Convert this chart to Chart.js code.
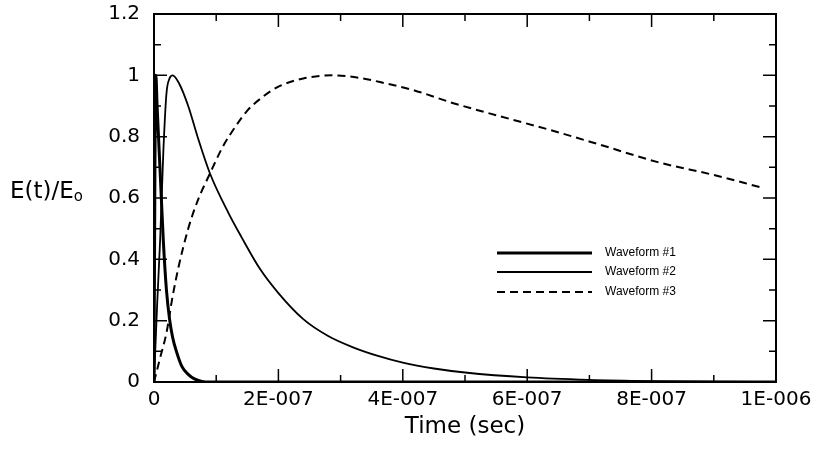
<!DOCTYPE html>
<html>
<head>
<meta charset="utf-8">
<script src="https://cdn.jsdelivr.net/npm/chart.js@4.4.1/dist/chart.umd.min.js"></script>
<style>
  html, body { margin: 0; padding: 0; background: #fff; }
  #wrap { position: relative; width: 819px; height: 455px; }
  #ytitle { position: absolute; left: 10px; top: 177px; font: 23px "DejaVu Sans"; color: #000; white-space: nowrap; }
  #ytitle sub { font-size: 15px; vertical-align: -3px; }
</style>
</head>
<body>
<div id="wrap">
  <canvas id="chart" width="819" height="455"></canvas>
  <div id="ytitle">E(t)/E<sub>o</sub></div>
</div>
<script>
// time (sec) and normalised field
const seriesNames = ['Waveform #1', 'Waveform #2', 'Waveform #3'];

const time1 = [0, 0.15e-8, 0.3e-8, 0.5e-8, 1.0e-8, 1.5e-8, 2.0e-8, 2.5e-8, 3.0e-8, 3.6e-8, 4.5e-8, 5.5e-8, 6.5e-8, 7.7e-8, 9e-8, 1.2e-7, 1.0e-6];
const wave1 = [0, 0.7, 1.0, 0.9, 0.68, 0.46, 0.3, 0.205, 0.145, 0.1, 0.05, 0.025, 0.01, 0.002, 0, 0, 0];

const time2 = [0, 0.5e-8, 1.0e-8, 1.5e-8, 2.0e-8, 2.5e-8, 3.0e-8, 4.0e-8, 5.5e-8, 7e-8, 9e-8, 1.2e-7, 1.4e-7, 1.7e-7, 2.0e-7, 2.4e-7, 2.8e-7, 3.2e-7, 3.6e-7, 4.0e-7, 4.5e-7, 5.0e-7, 6.0e-7, 7.0e-7, 8.0e-7, 9.0e-7, 1.0e-6];
const wave2 = [0, 0.25, 0.47, 0.75, 0.94, 0.99, 1.0, 0.975, 0.9, 0.8, 0.68, 0.55, 0.475, 0.37, 0.29, 0.205, 0.15, 0.113, 0.085, 0.063, 0.044, 0.031, 0.015, 0.007, 0.003, 0.001, 0];

const time3 = [0, 1e-8, 2e-8, 3e-8, 4e-8, 5.5e-8, 7e-8, 9e-8, 1.1e-7, 1.3e-7, 1.5e-7, 1.75e-7, 2.0e-7, 2.4e-7, 2.9e-7, 3.3e-7, 3.7e-7, 4.2e-7, 4.8e-7, 5.5e-7, 6.4e-7, 7.2e-7, 8.1e-7, 9.0e-7, 9.75e-7];
const wave3 = [0, 0.08, 0.16, 0.28, 0.38, 0.5, 0.59, 0.68, 0.765, 0.83, 0.885, 0.93, 0.963, 0.99, 1.0, 0.992, 0.975, 0.95, 0.91, 0.87, 0.82, 0.772, 0.717, 0.675, 0.635];

const xTickStep = 2e-7;
const yTickStep = 0.2;

const toPoints = (ts, vs) => ts.map((t, i) => ({ x: t, y: vs[i] }));

// frame, inward ticks on all four sides, and the legend inside the plot
const framePlugin = {
  id: 'frame',
  afterDraw(chart) {
    const { ctx, chartArea: a, scales: { x, y } } = chart;
    ctx.save();
    ctx.strokeStyle = '#000';
    ctx.lineWidth = 2;
    ctx.strokeRect(a.left, a.top, a.width, a.height);

    const withMinors = scale => {
      const vals = scale.ticks.map(t => t.value);
      const out = vals.map(v => ({ v, major: true }));
      for (let i = 0; i < vals.length - 1; i++) out.push({ v: (vals[i] + vals[i + 1]) / 2, major: false });
      return out;
    };
    ctx.lineWidth = 1.5;
    ctx.beginPath();
    withMinors(x).forEach(({ v, major }) => {
      const px = x.getPixelForValue(v);
      const len = major ? 13 : 7;
      ctx.moveTo(px, a.bottom); ctx.lineTo(px, a.bottom - len);
      ctx.moveTo(px, a.top); ctx.lineTo(px, a.top + len);
    });
    withMinors(y).forEach(({ v, major }) => {
      const py = y.getPixelForValue(v);
      const len = major ? 13 : 7;
      ctx.moveTo(a.left, py); ctx.lineTo(a.left + len, py);
      ctx.moveTo(a.right, py); ctx.lineTo(a.right - len, py);
    });
    ctx.stroke();

    // legend
    const lx0 = 497, lx1 = 592, tx = 605;
    const rows = [253, 272, 292];
    ctx.font = '12px "Liberation Sans"';
    ctx.fillStyle = '#000';
    ctx.textBaseline = 'middle';
    chart.data.datasets.forEach((ds, i) => {
      ctx.lineWidth = ds.borderWidth;
      ctx.setLineDash(ds.borderDash || []);
      ctx.beginPath();
      ctx.moveTo(lx0, rows[i]); ctx.lineTo(lx1, rows[i]);
      ctx.stroke();
      ctx.setLineDash([]);
      ctx.fillText(ds.label, tx, rows[i]);
    });
    ctx.restore();
  }
};

const tickFont = { family: 'DejaVu Sans', size: 20 };

new Chart(document.getElementById('chart'), {
  type: 'scatter',
  data: {
    datasets: [
      { label: seriesNames[0], data: toPoints(time1, wave1), borderColor: '#000', borderWidth: 3, showLine: true, pointRadius: 0, cubicInterpolationMode: 'monotone' },
      { label: seriesNames[1], data: toPoints(time2, wave2), borderColor: '#000', borderWidth: 1.8, showLine: true, pointRadius: 0, cubicInterpolationMode: 'monotone' },
      { label: seriesNames[2], data: toPoints(time3, wave3), borderColor: '#000', borderWidth: 2, borderDash: [8, 5], showLine: true, pointRadius: 0, cubicInterpolationMode: 'monotone' }
    ]
  },
  options: {
    responsive: false,
    animation: false,
    layout: { padding: { left: 0, top: 14, right: 43, bottom: 0 } },
    plugins: { legend: { display: false }, tooltip: { enabled: false } },
    scales: {
      x: {
        type: 'linear', min: 0, max: 1e-6,
        grid: { display: false, drawTicks: false },
        border: { display: false },
        ticks: {
          stepSize: xTickStep, color: '#000', font: tickFont, padding: 6, maxRotation: 0,
          callback: v => {
            if (v === 0) return '0';
            const [m, e] = Number(v).toExponential(0).split('e');
            const n = Math.abs(parseInt(e, 10));
            return m + 'E' + (parseInt(e, 10) < 0 ? '-' : '+') + String(n).padStart(3, '0');
          }
        },
        title: { display: true, text: 'Time (sec)', color: '#000', font: { family: 'DejaVu Sans', size: 23 }, padding: { top: 0, bottom: 14 } },
        afterFit: s => { s.height = 73; s.paddingLeft = 0; s.paddingRight = 0; }
      },
      y: {
        min: 0, max: 1.2,
        grid: { display: false, drawTicks: false },
        border: { display: false },
        ticks: { stepSize: yTickStep, color: '#000', font: tickFont, padding: 14, callback: v => String(Math.round(v * 10) / 10) },
        afterFit: s => { s.width = 154; s.paddingTop = 0; s.paddingBottom = 0; }
      }
    }
  },
  plugins: [framePlugin]
});
</script>
</body>
</html>
